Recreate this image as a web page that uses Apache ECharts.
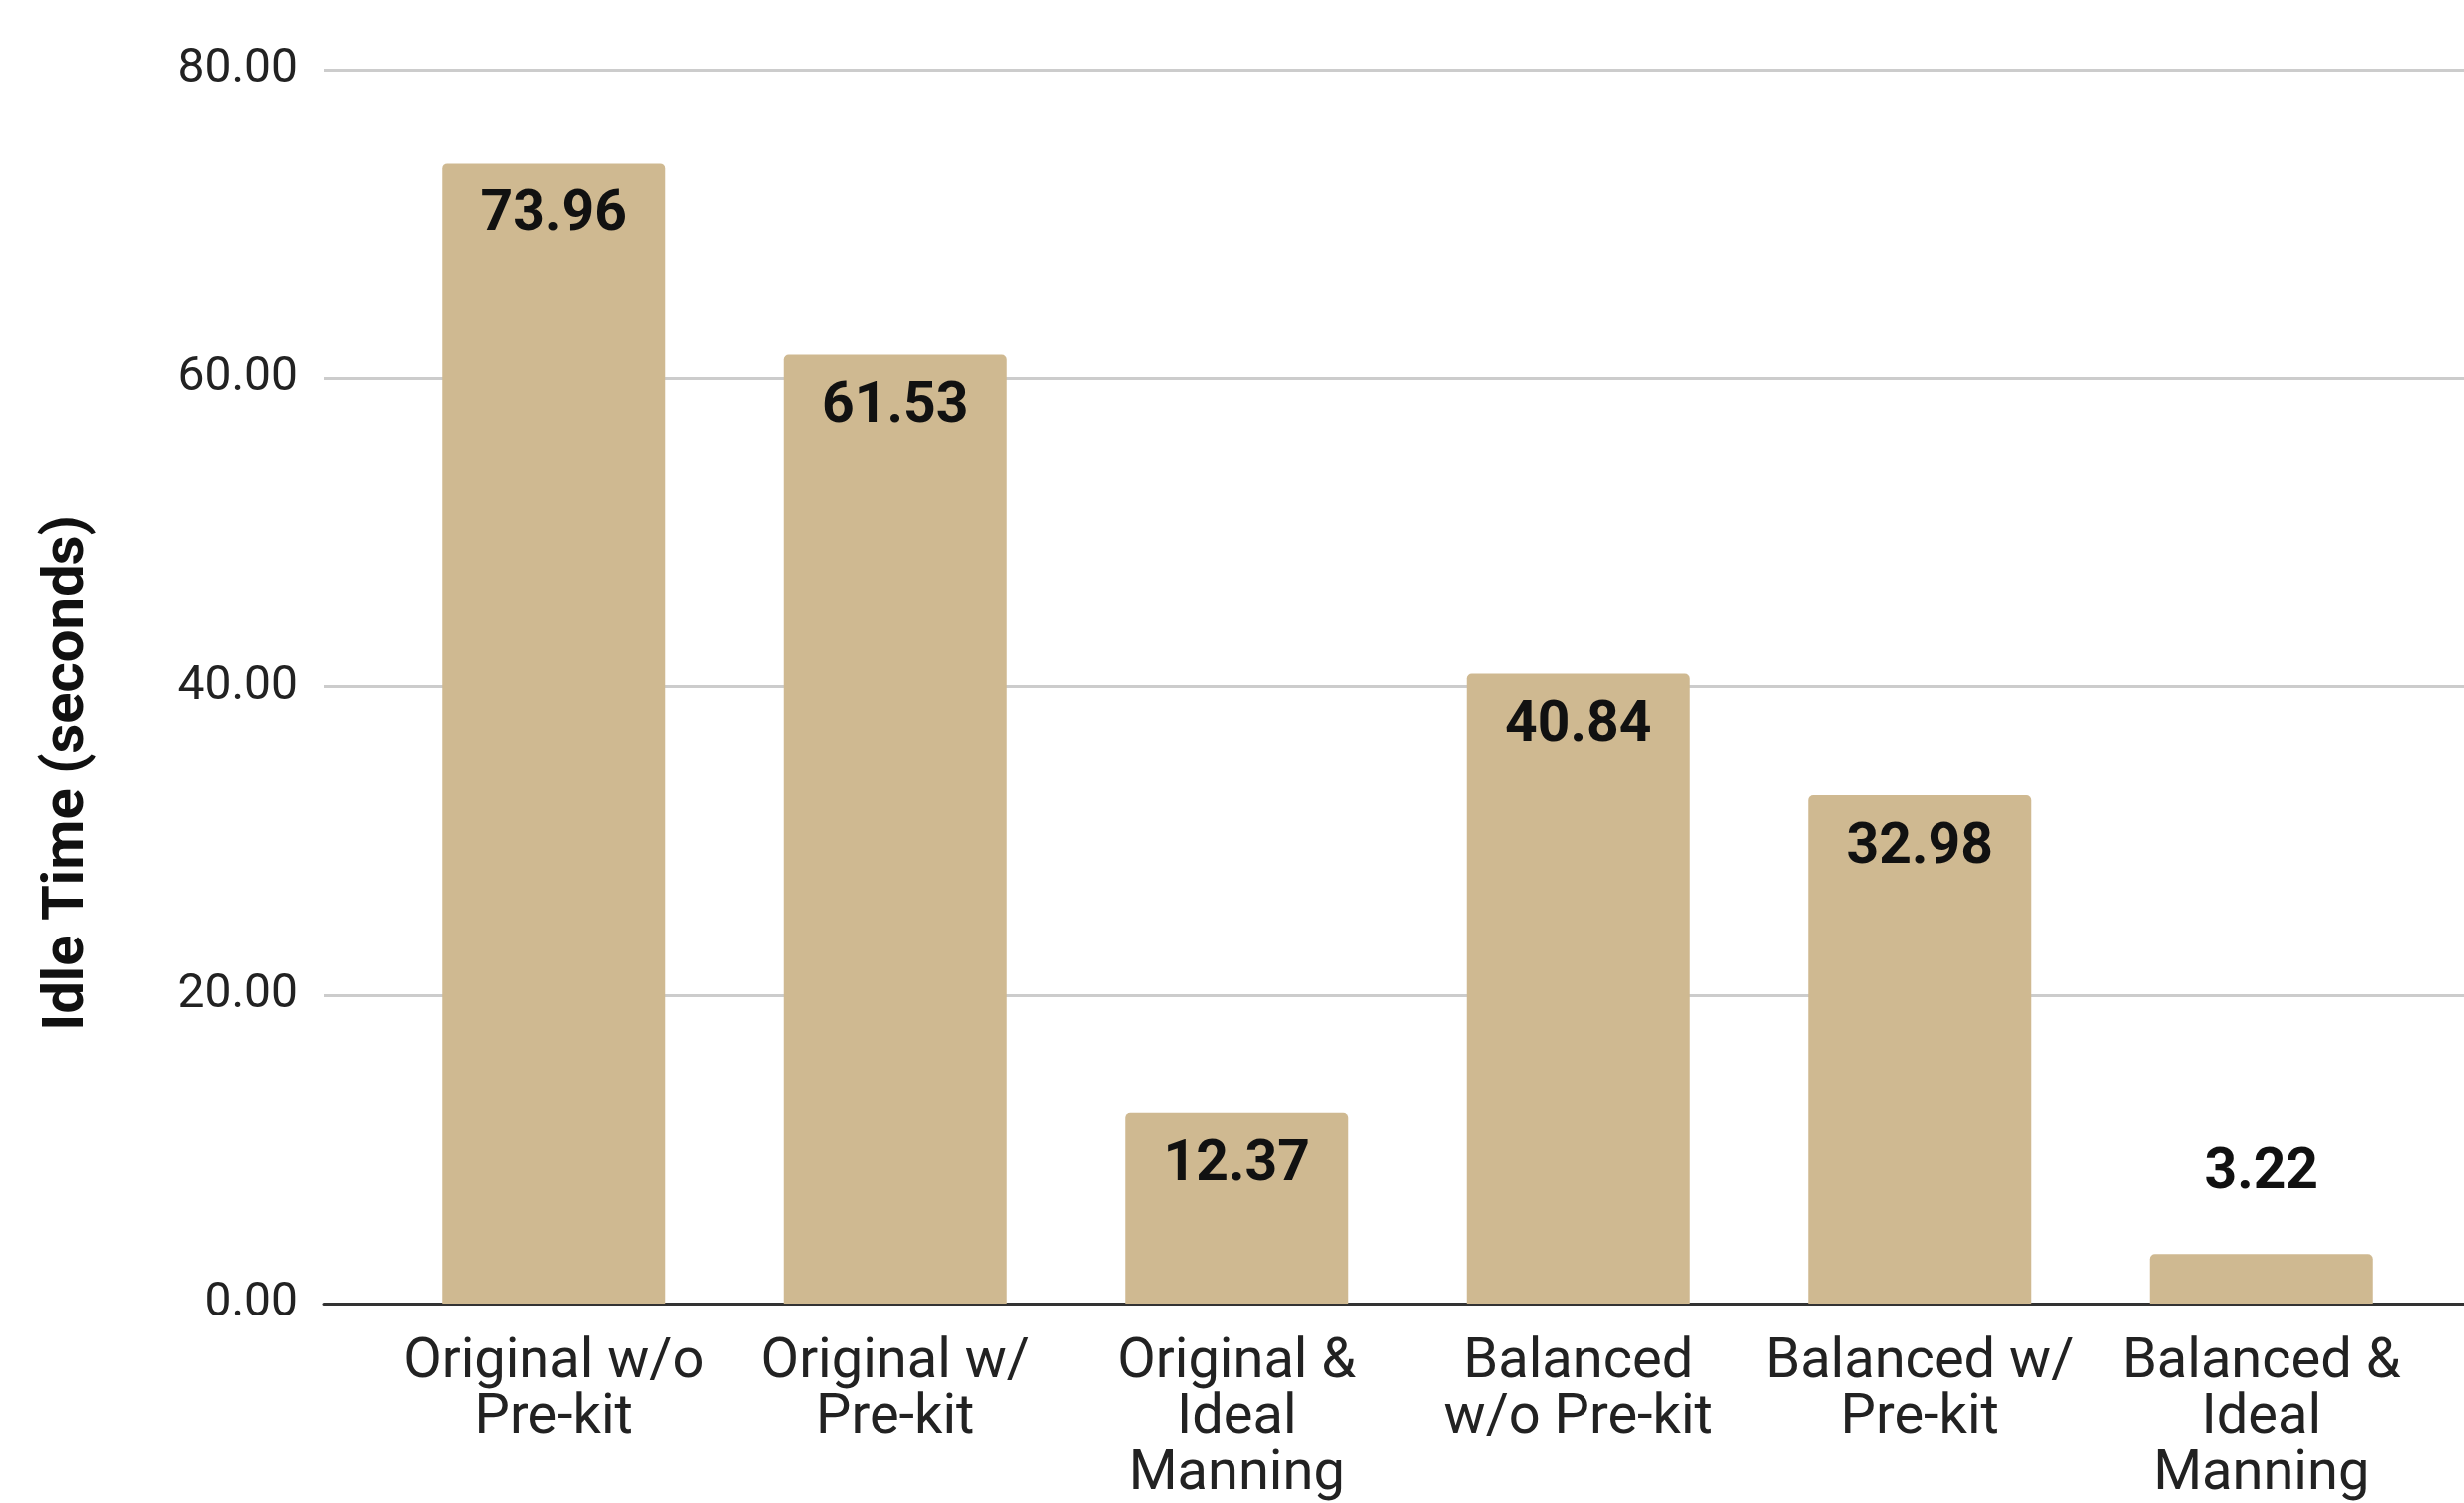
<!DOCTYPE html>
<html>
<head>
<meta charset="utf-8">
<script src="https://cdn.jsdelivr.net/npm/echarts@6/dist/echarts.min.js"></script>
<style>
  html, body { margin: 0; padding: 0; background: #ffffff; }
  #chart { width: 2471px; height: 1507px; }
</style>
</head>
<body>
<div id="chart"></div>
<script>
const categories = [
  'Original w/o\nPre-kit',
  'Original w/\nPre-kit',
  'Original &\nIdeal\nManning',
  'Balanced\nw/o Pre-kit',
  'Balanced w/\nPre-kit',
  'Balanced &\nIdeal\nManning'
];
const idleTime = [73.96, 61.53, 12.37, 40.84, 32.98, 3.22];
const yTickLabels = ['0.00', '20.00', '40.00', '60.00', '80.00'];
const yMin = 0, yMax = 80, yStep = 20;
const yTitle = 'Idle Time (seconds)';

const FONT = 'Roboto, "Noto Sans", sans-serif';
const chart = echarts.init(document.getElementById('chart'));

const seriesData = idleTime.map(v => ({
  value: v,
  label: v > 8
    ? { position: 'insideTop', distance: 25 }
    : { position: 'top', distance: 52 }
}));

chart.setOption({
  backgroundColor: '#ffffff',
  animation: false,
  textStyle: { fontFamily: FONT },
  grid: [
    { left: 325, right: 0, top: 70, bottom: 200 },
    { left: 384, right: 32, top: 70, bottom: 200 }
  ],
  xAxis: [
    {
      gridIndex: 0, type: 'value', min: 0, max: 1,
      axisLine: { show: true, lineStyle: { color: '#333333', width: 3 } },
      axisTick: { show: false }, axisLabel: { show: false }, splitLine: { show: false }
    },
    {
      gridIndex: 1, type: 'category', data: categories,
      axisLine: { show: false }, axisTick: { show: false },
      axisLabel: {
        interval: 0, fontSize: 56, lineHeight: 56, color: '#222222',
        fontFamily: FONT, margin: 32
      }
    }
  ],
  yAxis: [
    {
      gridIndex: 0, type: 'value', min: yMin, max: yMax, interval: yStep,
      axisLine: { show: false }, axisTick: { show: false },
      axisLabel: {
        fontSize: 48, color: '#222222', fontFamily: FONT, margin: 26,
        formatter: v => yTickLabels[Math.round((v - yMin) / yStep)]
      },
      splitLine: { lineStyle: { color: '#cccccc', width: 3 } }
    },
    {
      gridIndex: 1, type: 'value', min: yMin, max: yMax, interval: yStep, show: false
    }
  ],
  graphic: [{
    type: 'text',
    x: 68, y: 775,
    rotation: Math.PI / 2,
    style: {
      text: yTitle,
      fontFamily: FONT, fontSize: 58, fontWeight: 'bold',
      fill: '#111111', textAlign: 'center', textVerticalAlign: 'middle'
    }
  }],
  series: [{
    type: 'bar',
    xAxisIndex: 1, yAxisIndex: 1,
    data: seriesData,
    barWidth: 224,
    itemStyle: { color: '#CFB991', borderRadius: [5, 5, 0, 0] },
    label: {
      show: true, fontFamily: FONT, fontSize: 57, fontWeight: 'bold',
      lineHeight: 57, color: '#111111',
      formatter: p => p.value.toFixed(2)
    }
  }]
});
</script>
</body>
</html>
